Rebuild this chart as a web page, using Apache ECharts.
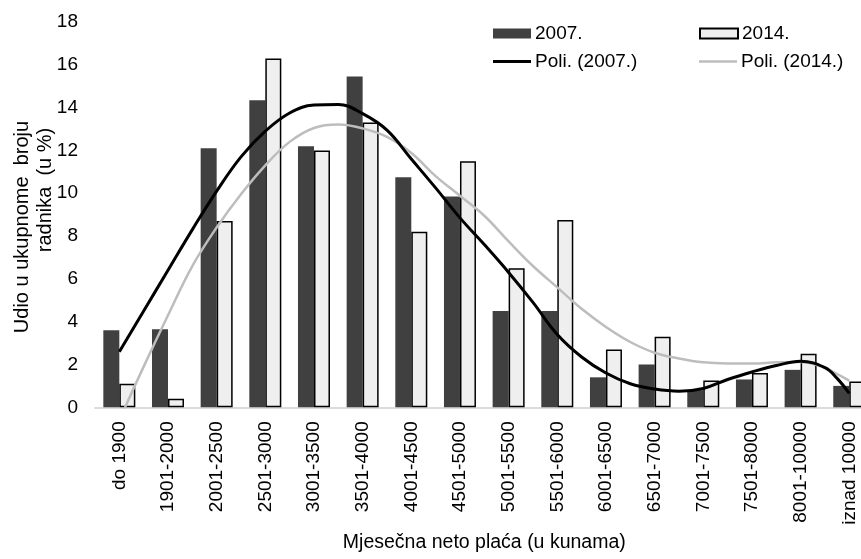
<!DOCTYPE html>
<html><head><meta charset="utf-8">
<script src="https://cdn.jsdelivr.net/npm/echarts@6/dist/echarts.min.js"></script>
<style>html,body{margin:0;padding:0;background:#fff}#c{width:861px;height:559px}</style>
</head><body><div id="c"></div>
<script>
var categories = ['do 1900','1901-2000','2001-2500','2501-3000','3001-3500','3501-4000','4001-4500','4501-5000','5001-5500','5501-6000','6001-6500','6501-7000','7001-7500','7501-8000','8001-10000','iznad 10000'];
var v2007 = [3.6,3.65,12.1,14.35,12.2,15.45,10.75,9.85,4.5,4.5,1.4,2.0,0.8,1.3,1.75,1.0];
var v2014 = [1.1,0.4,8.7,16.3,12.0,13.3,8.2,11.5,6.5,8.75,2.7,3.3,1.25,1.6,2.5,1.2];
var trendPos  = [0,0.5,1,1.5,2,2.5,3,3.5,4,4.5,5,5.5,6,6.5,7,7.5,8,8.5,9,9.5,10,10.5,11,11.5,12,12.5,13,13.5,14,14.5,14.75,15];
var trend2007 = [2.6,4.5,6.4,8.3,10.1,11.7,12.9,13.75,14.12,14.15,13.72,12.95,11.6,10.25,8.85,7.6,6.3,4.9,3.4,2.35,1.6,1.1,0.85,0.75,0.88,1.3,1.65,1.95,2.15,1.85,1.35,0.65];
var trend2014 = [-0.6,1.9,4.3,6.6,8.4,9.95,11.3,12.4,13.05,13.21,13.03,12.63,11.88,10.8,9.88,8.95,7.75,6.6,5.6,4.6,3.75,3.05,2.55,2.28,2.1,2.05,2.05,2.1,2.12,1.85,1.55,1.25];
var yTicks = [0,2,4,6,8,10,12,14,16,18];

var FONT = 'Liberation Sans, Arial, sans-serif';
function pairs(pos, vals){ return pos.map(function(p,i){ return [p, vals[i]]; }); }
var chart = echarts.init(document.getElementById('c'));
function leg(name, left, top, icon, h) {
  return {data:[name], left:left, top:top, padding:0, itemWidth:38, itemHeight:h, itemGap:0, icon:icon,
    textStyle:{fontFamily:FONT, fontSize:19, color:'#000', padding:[0,0,0,-1]}, selectedMode:false};
}
chart.setOption({
  animation:false,
  legend:[leg('2007.',493,24,'rect',10), leg('2014.',699,24,'rect',10), leg('Poli. (2007.)',493,52,'rect',3), leg('Poli. (2014.)',699,52,'rect',2.5)],
  grid:{left:95, top:22, width:778.6, height:385.3, containLabel:false, outerBoundsMode:'none'},
  xAxis:[{type:'category', data:categories,
    axisLine:{lineStyle:{color:'#d0d0d0', width:1.5}}, axisTick:{show:false},
    axisLabel:{rotate:90, interval:0, fontFamily:FONT, fontSize:19, color:'#000', margin:14},
    name:'Mjesečna neto plaća (u kunama)', nameLocation:'middle', nameGap:122,
    nameTextStyle:{fontFamily:FONT, fontSize:19.5, color:'#000'}},
    {type:'value', min:-0.5, max:categories.length-0.5, show:false}],
  yAxis:{type:'value', min:yTicks[0], max:yTicks[yTicks.length-1], interval:2,
    axisLine:{show:false}, axisTick:{show:false}, splitLine:{show:false},
    axisLabel:{fontFamily:FONT, fontSize:19, color:'#000', margin:17}},
  graphic:[
    {type:'text', x:22, y:227, rotation:Math.PI/2, style:{text:'Udio u ukupnome  broju', font:'20px '+FONT, fill:'#000', textAlign:'center', textVerticalAlign:'middle'}},
    {type:'text', x:45, y:190, rotation:Math.PI/2, style:{text:'radnika  (u %)', font:'20px '+FONT, fill:'#000', textAlign:'center', textVerticalAlign:'middle'}}
  ],
  series:[
    {name:'2007.', type:'bar', data:v2007, barWidth:16, barGap:'0%', itemStyle:{color:'#404040'}},
    {name:'2014.', type:'bar', data:v2014, barWidth:16, barGap:'0%', itemStyle:{color:'#efefef', borderColor:'#000', borderWidth:1.5}},
    {name:'Poli. (2007.)', type:'line', xAxisIndex:1, data:pairs(trendPos,trend2007), smooth:0.4, symbol:'none', showSymbol:false, clip:true, lineStyle:{color:'#000', width:3}, itemStyle:{color:'#000'}, z:5},
    {name:'Poli. (2014.)', type:'line', xAxisIndex:1, data:pairs(trendPos,trend2014), smooth:0.4, symbol:'none', showSymbol:false, clip:true, lineStyle:{color:'#bdbdbd', width:2.5}, itemStyle:{color:'#bdbdbd'}, z:4}
  ]
});
</script></body></html>
